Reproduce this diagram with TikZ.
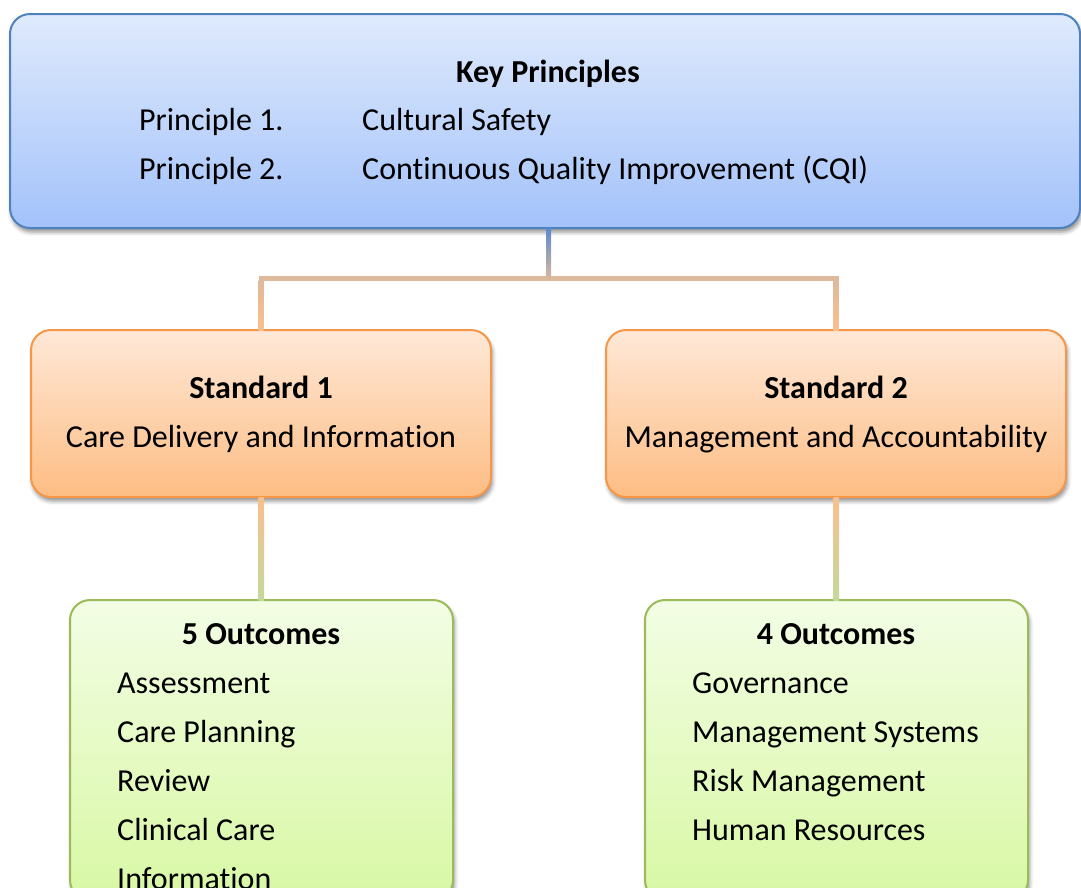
\documentclass[tikz,border=0pt]{standalone}
\usepackage{fontspec}
\setmainfont{Carlito}[Ligatures=NoCommon]
\usetikzlibrary{shadows.blur,calc}
\definecolor{blueedge}{HTML}{4F81BD}
\definecolor{bluetop}{HTML}{DFEAFC}
\definecolor{bluebot}{HTML}{A3C2FA}
\definecolor{orangeedge}{HTML}{F79646}
\definecolor{orangetop}{HTML}{FEE8D7}
\definecolor{orangebot}{HTML}{FDBD84}
\definecolor{greenedge}{HTML}{9BBB59}
\definecolor{greentop}{HTML}{F3FDE5}
\definecolor{greenbot}{HTML}{D8F8A4}
\definecolor{linktan}{HTML}{DFB99C}
\definecolor{linkorange}{HTML}{F9C08E}
\definecolor{linkgreen}{HTML}{C3D89B}
\definecolor{linkblue}{HTML}{5A8AD0}
\tikzset{
  box/.style={rounded corners=20pt, line width=2pt, anchor=north west,
    inner sep=0pt, outer sep=0pt,
    blur shadow={shadow xshift=1.5pt, shadow yshift=-4pt, shadow blur radius=4pt, shadow opacity=45}},
  keybox/.style={box, draw=blueedge, top color=bluetop, bottom color=bluebot},
  stdbox/.style={box, draw=orangeedge, top color=orangetop, bottom color=orangebot},
  outbox/.style={box, draw=greenedge, top color=greentop, bottom color=greenbot},
  txt/.style={font=\fontsize{32pt}{38pt}\selectfont, inner sep=0pt},
  head/.style={txt, font=\fontsize{32pt}{38pt}\selectfont\bfseries, anchor=base},
  item/.style={txt, anchor=base west},
  link/.style={line width=5pt, linktan, line cap=butt, line join=miter}
}
\begin{document}
\begin{tikzpicture}[x=1pt,y=-1pt]
\useasboundingbox (0,0) rectangle (1081,887);
\clip (0,0) rectangle (1081,887);

% boxes
\node[keybox, minimum width=1070pt, minimum height=214pt] (kp) at (10,14) {};
\node[stdbox, minimum width=460pt, minimum height=167pt] (s1) at (31,330) {};
\node[stdbox, minimum width=460pt, minimum height=167pt] (s2) at (606,330) {};
\node[outbox, minimum width=383pt, minimum height=300pt] (o1) at (70,600) {};
\node[outbox, minimum width=383pt, minimum height=300pt] (o2) at (645,600) {};

% connectors
\coordinate (mid) at ($(s1.north)!0.5!(s2.north)$);
\coordinate (bend) at ($(mid)+(0,-52)$);
\draw[link] (s1.north) -- ++(0,-52) -| (s2.north);
\shade[top color=linkblue, bottom color=linktan]
  ($(kp.south -| bend)+(-2.5,0)$) rectangle ($(bend)+(2.5,2.5)$);
\shade[top color=linktan, bottom color=linkorange]
  ($(s1.north)+(-2.5,-50)$) rectangle ($(s1.north)+(2.5,0)$);
\shade[top color=linktan, bottom color=linkorange]
  ($(s2.north)+(-2.5,-50)$) rectangle ($(s2.north)+(2.5,0)$);
\shade[top color=linkorange, bottom color=linkgreen]
  ($(s1.south)+(-2.5,0)$) rectangle ($(o1.north)+(2.5,0)$);
\shade[top color=linkorange, bottom color=linkgreen]
  ($(s2.south)+(-2.5,0)$) rectangle ($(o2.north)+(2.5,0)$);

% key principles
\node[head] (kpt) at (548,82) {Key Principles};
\node[item] (p1) at (139,130) {Principle 1.};
\node[item] (p1t) at (362,130) {Cultural Safety};
\node[item] (p2) at (139,179) {Principle 2.};
\node[item] (p2t) at (362,179) {Continuous Quality Improvement (CQI)};

% standards
\node[head] (s1h) at (261,398) {Standard 1};
\node[txt, anchor=base] (s1t) at (261,447) {Care Delivery and Information};
\node[head] (s2h) at (836,398) {Standard 2};
\node[txt, anchor=base] (s2t) at (836,447) {Management and Accountability};

% outcomes
\node[head] (o1h) at (261,644) {5 Outcomes};
\node[item] (a1) at (117,693) {Assessment};
\node[item] (a2) at (117,742) {Care Planning};
\node[item] (a3) at (117,791) {Review};
\node[item] (a4) at (117,840) {Clinical Care};
\node[item] (a5) at (117,889) {Information};

\node[head] (o2h) at (836,644) {4 Outcomes};
\node[item] (b1) at (692,693) {Governance};
\node[item] (b2) at (692,742) {Management Systems};
\node[item] (b3) at (692,791) {Risk Management};
\node[item] (b4) at (692,840) {Human Resources};
\end{tikzpicture}
\end{document}
